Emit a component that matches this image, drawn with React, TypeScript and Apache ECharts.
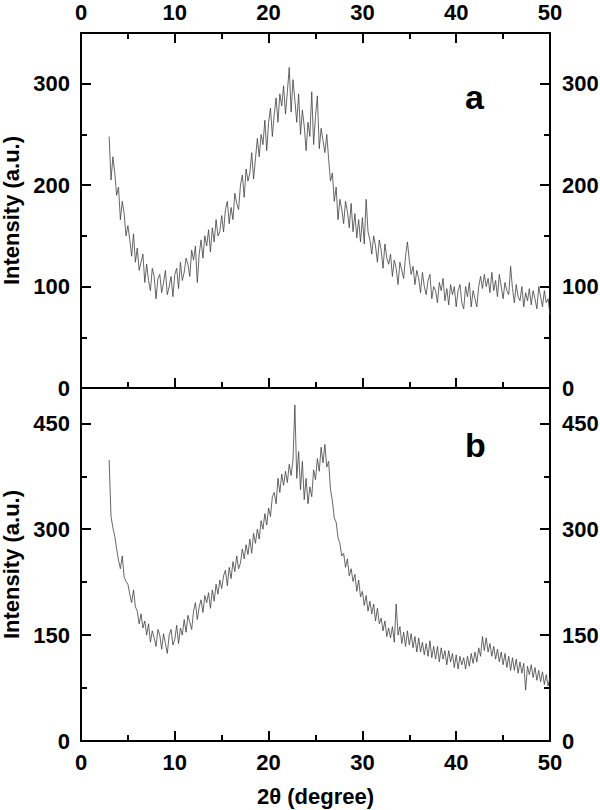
import React, { useEffect, useRef } from "react";
import * as echarts from "echarts";

// 2θ sampling of the digitised patterns (degrees)
const START_2THETA = 3.0;
const STEP_2THETA = 0.2;

// Panel a: intensity (a.u.) from 3.0° to 50.0° every 0.2°
const intensityA = [
  248, 205, 228, 212, 190,
  198, 166, 184, 172, 150,
  160, 146, 130, 152, 124,
  138, 116, 124, 132, 104,
  122, 106, 96, 118, 110,
  88, 108, 112, 94, 104,
  116, 92, 100, 110, 90,
  112, 118, 98, 124, 106,
  114, 128, 122, 110, 136,
  126, 140, 104, 132, 146,
  128, 150, 140, 156, 134,
  158, 144, 166, 150, 154,
  170, 154, 176, 184, 162,
  178, 166, 192, 182, 176,
  200, 210, 188, 216, 204,
  212, 232, 206, 226, 246,
  228, 250, 240, 264, 234,
  262, 276, 248, 270, 286,
  262, 290, 278, 298, 270,
  292, 316, 272, 304, 284,
  262, 290, 250, 274, 258,
  234, 262, 248, 292, 240,
  268, 288, 236, 256, 244,
  232, 250, 226, 204, 212,
  184, 198, 166, 186, 176,
  162, 184, 174, 158, 182,
  154, 172, 148, 166, 144,
  168, 142, 186, 154, 146,
  132, 150, 140, 124, 146,
  136, 118, 142, 128, 122,
  132, 110, 126, 118, 102,
  124, 116, 108, 130, 144,
  126, 112, 120, 102, 116,
  108, 94, 114, 100, 92,
  106, 112, 88, 100, 96,
  84, 104, 96, 108, 86,
  98, 82, 102, 92, 100,
  80, 96, 102, 84, 78,
  100, 90, 104, 80, 96,
  88, 80, 100, 110, 98,
  112, 100, 108, 94, 114,
  96, 106, 90, 112, 100,
  88, 104, 96, 92, 120,
  98, 84, 102, 90, 86,
  100, 80, 94, 86, 98,
  82, 96, 88, 78, 100,
  90, 80, 96, 84, 88,
  72,
];

// Panel b: intensity (a.u.) from 3.0° to 50.0° every 0.2°
const intensityB = [
  398, 318, 302, 290, 272,
  256, 244, 262, 232, 226,
  222, 208, 196, 214, 190,
  184, 166, 180, 160, 170,
  150, 166, 140, 156, 146,
  134, 158, 150, 130, 152,
  138, 124, 150, 158, 136,
  144, 164, 138, 160, 150,
  172, 154, 178, 168, 158,
  184, 196, 172, 190, 200,
  182, 206, 196, 210, 188,
  214, 198, 222, 208, 228,
  216, 234, 242, 220, 246,
  230, 254, 240, 262, 244,
  252, 272, 258, 278, 264,
  286, 266, 294, 280, 300,
  286, 312, 300, 322, 306,
  330, 318, 346, 352, 336,
  372, 352, 378, 362, 382,
  366, 392, 376, 398, 476,
  372, 410, 356, 396, 342,
  372, 336, 360, 346, 384,
  370, 400, 382, 416, 394,
  420, 388, 396, 356, 340,
  316, 310, 288, 280, 262,
  266, 246, 258, 234, 244,
  226, 236, 212, 228, 204,
  212, 192, 206, 184, 198,
  180, 194, 170, 188, 166,
  174, 156, 170, 148, 160,
  146, 162, 140, 194, 150,
  162, 138, 154, 134, 156,
  136, 152, 132, 148, 126,
  146, 126, 140, 122, 138,
  120, 142, 118, 134, 116,
  134, 112, 132, 116, 128,
  108, 128, 112, 124, 104,
  122, 102, 120, 108, 118,
  102, 120, 106, 124, 110,
  126, 112, 132, 120, 148,
  128, 146, 126, 138, 120,
  134, 116, 130, 112, 126,
  108, 124, 104, 120, 100,
  118, 100, 116, 96, 112,
  96, 110, 72, 106, 94,
  108, 90, 104, 86, 100,
  84, 98, 80, 94, 78,
  90,
];

// Axis ranges / tick steps
const X_RANGE = [0, 50];
const X_STEP = 10;
const Y_RANGE_A = [0, 350];
const Y_STEP_A = 100;
const Y_RANGE_B = [0, 500];
const Y_STEP_B = 150;

const PANEL_LABELS = ["a", "b"];
const X_NAME = "2θ (degree)";
const Y_NAME = "Intensity (a.u.)";

const FONT = "'Liberation Sans', Arial, Helvetica, sans-serif";

function toPairs(values: number[]) {
  return values.map((v, i) => [+(START_2THETA + i * STEP_2THETA).toFixed(1), v]);
}

export default function App() {
  const ref = useRef<HTMLDivElement>(null);

  useEffect(() => {
    if (!ref.current) return;
    const chart = echarts.init(ref.current, undefined, { renderer: "svg" });

    const lineStyle = { color: "#000", width: 2 };
    const labelStyle = {
      color: "#000",
      fontSize: 22,
      fontWeight: "bold" as const,
      fontFamily: FONT,
    };

    const grids = [
      { left: 81, top: 33, width: 469, height: 355, outerBoundsMode: "none", containLabel: false },
      { left: 81, top: 388, width: 469, height: 353, outerBoundsMode: "none", containLabel: false },
    ];

    const xAxis: any[] = [];
    const xDefs = [
      { grid: 0, pos: "bottom", labels: false, ticks: true },
      { grid: 0, pos: "top", labels: true, ticks: true },
      { grid: 1, pos: "bottom", labels: true, ticks: true, name: true },
      { grid: 1, pos: "top", labels: false, ticks: false },
    ];
    xDefs.forEach((d) => {
      xAxis.push({
        type: "value",
        gridIndex: d.grid,
        position: d.pos,
        min: X_RANGE[0],
        max: X_RANGE[1],
        interval: X_STEP,
        axisLine: { show: true, onZero: false, lineStyle },
        axisTick: { show: d.ticks, inside: true, length: 10, lineStyle },
        minorTick: { show: d.ticks, splitNumber: 2, length: 6, lineStyle },
        splitLine: { show: false },
        minorSplitLine: { show: false },
        axisLabel: { show: d.labels, margin: 10, ...labelStyle },
        name: d.name ? X_NAME : "",
        nameLocation: "middle",
        nameGap: 44,
        nameTextStyle: { ...labelStyle, fontSize: 22 },
      });
    });

    const yAxis: any[] = [];
    const yRanges = [
      { range: Y_RANGE_A, step: Y_STEP_A },
      { range: Y_RANGE_B, step: Y_STEP_B },
    ];
    yRanges.forEach((r, g) => {
      ["left", "right"].forEach((pos) => {
        // major ticks + labels
        yAxis.push({
          type: "value",
          gridIndex: g,
          position: pos,
          min: r.range[0],
          max: r.range[1],
          interval: r.step,
          axisLine: { show: true, onZero: false, lineStyle },
          axisTick: { show: true, inside: true, length: 10, lineStyle },
          splitLine: { show: false },
          axisLabel: {
            show: true,
            margin: pos === "left" ? 11 : 12,
            showMaxLabel: false,
            ...labelStyle,
          },
          name: pos === "left" ? Y_NAME : "",
          nameLocation: "middle",
          nameRotate: 90,
          nameGap: 55,
          nameTextStyle: { ...labelStyle, fontSize: 22 },
        });
        // minor ticks (half step)
        yAxis.push({
          type: "value",
          gridIndex: g,
          position: pos,
          min: r.range[0],
          max: r.range[1],
          interval: r.step / 2,
          axisLine: { show: false, onZero: false },
          axisTick: { show: true, inside: true, length: 6, lineStyle },
          splitLine: { show: false },
          axisLabel: { show: false },
        });
      });
    });

    const seriesLine = { color: "#404040", width: 0.8 };

    chart.setOption({
      animation: false,
      backgroundColor: "#fff",
      grid: grids,
      xAxis,
      yAxis,
      graphic: [
        {
          type: "text",
          left: 465,
          top: 80,
          style: {
            text: PANEL_LABELS[0],
            fill: "#000",
            font: `bold 34px ${FONT}`,
          },
        },
        {
          type: "text",
          left: 465,
          top: 428,
          style: {
            text: PANEL_LABELS[1],
            fill: "#000",
            font: `bold 34px ${FONT}`,
          },
        },
      ],
      series: [
        {
          type: "line",
          xAxisIndex: 0,
          yAxisIndex: 0,
          data: toPairs(intensityA),
          showSymbol: false,
          symbol: "none",
          lineStyle: seriesLine,
        },
        {
          type: "line",
          xAxisIndex: 2,
          yAxisIndex: 4,
          data: toPairs(intensityB),
          showSymbol: false,
          symbol: "none",
          lineStyle: seriesLine,
        },
      ],
    });

    return () => chart.dispose();
  }, []);

  return (
    <div
      ref={ref}
      style={{ position: "absolute", left: 0, top: 0, width: 600, height: 810 }}
    />
  );
}
